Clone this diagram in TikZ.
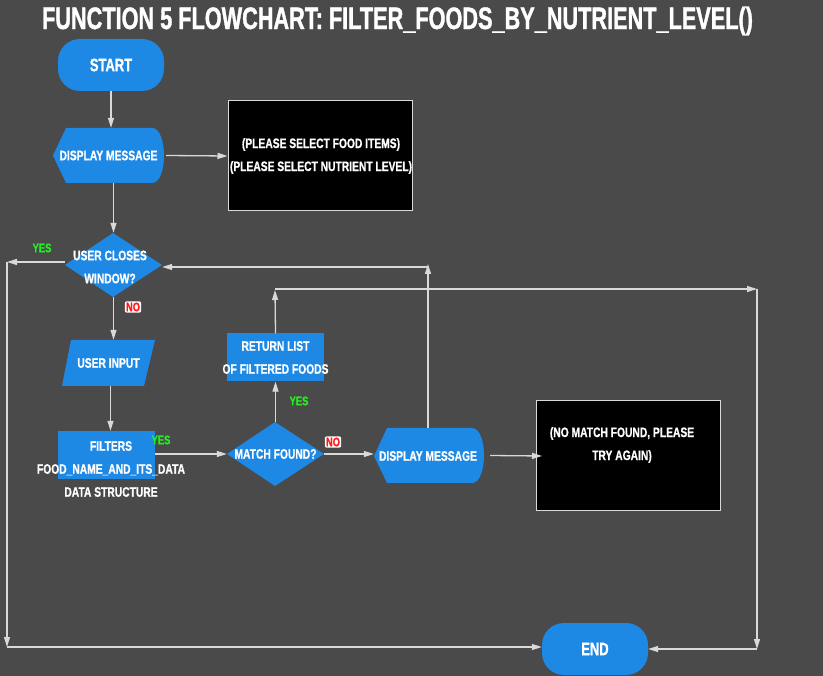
\documentclass[tikz,border=0pt]{standalone}
\usepackage{fontspec}
\usetikzlibrary{arrows.meta,calc}
\newfontfamily\titlefont{Liberation Sans}[FakeStretch=0.70,FakeBold=1.2]
\newfontfamily\nodefont{Liberation Sans}[FakeStretch=0.75,FakeBold=0.8]
\newfontfamily\termfont{Liberation Sans}[FakeStretch=0.72,FakeBold=1]
\definecolor{bg}{HTML}{4A4A4A}
\definecolor{fcblue}{HTML}{1E88E5}
\definecolor{lnc}{HTML}{D9D9D9}
\definecolor{yesg}{HTML}{22EE22}
\definecolor{nored}{HTML}{FF1A1A}
\tikzset{
  txt/.style={text=white, font=\nodefont\bfseries\fontsize{13.7}{23}\selectfont, align=center, inner sep=0pt},
  term/.style={fill=fcblue, rounded corners=22pt, minimum width=106pt, minimum height=52pt, txt, font=\termfont\bfseries\fontsize{18}{20}\selectfont},
  holder/.style={txt, minimum width=#1},
  blackbox/.style={fill=black, draw=lnc, line width=1pt, txt, minimum width=184pt, minimum height=110pt},
  conn/.style={draw=lnc, line width=1.3pt, -{Triangle[length=10pt,width=6pt]}},
  yeslbl/.style={text=yesg, font=\nodefont\bfseries\fontsize{12.5}{14}\selectfont, inner sep=0pt},
  nolbl/.style={text=nored, fill=white, rounded corners=2pt, font=\nodefont\bfseries\fontsize{12.5}{14}\selectfont, inner sep=1.2pt},
}
\begin{document}
\begin{tikzpicture}[x=1pt,y=-1pt]
\fill[bg] (0,0) rectangle (823,676);
\useasboundingbox (0,0) rectangle (823,676);

% title
\node[text=white, font=\titlefont\bfseries\fontsize{31}{33}\selectfont, inner sep=0pt] (title) at (397.5,21)
  {FUNCTION 5 FLOWCHART: FILTER\_FOODS\_BY\_NUTRIENT\_LEVEL()};

% shapes drawn directly
\fill[fcblue] (53,155.5) -- (66,128) -- (152,128) .. controls (168,128) and (168,183) .. (152,183) -- (66,183) -- cycle;
\fill[fcblue] (113,233) -- (162,265) -- (113,297) -- (65,265) -- cycle;
\fill[fcblue] (71,340) -- (155,340) -- (144,386) -- (62,386) -- cycle;
\fill[fcblue] (58,431) rectangle (155,479);
\fill[fcblue] (227,333) rectangle (324,381);
\fill[fcblue] (275,422) -- (324,454) -- (275,486) -- (227,454) -- cycle;
\fill[fcblue] (374,456) -- (387,428) -- (472,428) .. controls (488,428) and (488,483) .. (472,483) -- (387,483) -- cycle;

% nodes
\node[term] (start) at (111,65) {START};
\node[holder=111pt, minimum height=55pt] (dm1) at (108.5,155.5) {DISPLAY MESSAGE};
\node[blackbox] (box1) at (320,156) {};
\node[txt] (box1t) at (321,156) {(PLEASE SELECT FOOD ITEMS)\\(PLEASE SELECT NUTRIENT LEVEL)};
\node[holder=97pt, minimum height=64pt] (d1) at (113.5,265) {};
\node[txt] (d1t) at (110,267) {USER CLOSES\\WINDOW?};
\node[holder=93pt, minimum height=46pt] (ui) at (108.5,363) {USER INPUT};
\node[holder=97pt, minimum height=48pt] (filt) at (106.5,455) {};
\node[txt] (filtt) at (111,469) {FILTERS\\FOOD\_NAME\_AND\_ITS\_DATA\\DATA STRUCTURE};
\node[holder=97pt, minimum height=48pt] (ret) at (275.5,357.5) {RETURN LIST\\OF FILTERED FOODS};
\node[holder=97pt, minimum height=64pt] (m) at (275.5,454) {MATCH FOUND?};
\node[holder=110pt, minimum height=55pt] (dm2) at (429,455.5) {};
\node[txt] (dm2t) at (428,456) {DISPLAY MESSAGE};
\node[blackbox] (box2) at (628.5,456) {};
\node[txt] (box2t) at (622,445) {(NO MATCH FOUND, PLEASE\\TRY AGAIN)};
\node[term] (end) at (595,649) {END};

% labels
\node[yeslbl] (y1) at (42,248) {YES};
\node[yeslbl] (y2) at (161,440) {YES};
\node[yeslbl] (y3) at (299,401) {YES};
\node[nolbl] (n1) at (133,307) {NO};
\node[nolbl] (n2) at (333,442) {NO};

% coordinates
\coordinate (lft) at (7,262);
\coordinate (lftb) at (7,647);
\coordinate (up1) at (428,264);
\coordinate (up2) at (428,267);
\coordinate (r1) at (275,290);
\coordinate (r2) at (757,289);
\coordinate (r3) at (757,649);

% connectors
\draw[conn] (start.south) -- (start.south |- dm1.north);
\draw[conn] ([xshift=2pt]dm1.east) -- (box1.west);
\draw[conn] (d1.north |- dm1.south) -- (d1.north);
\draw[conn] (d1.west |- lft) -- (lft);
\draw[conn] (lft) -- (lftb);
\draw[conn] (lftb) -- (lftb -| end.west);
\draw[conn] (d1.south) -- (d1.south |- ui.north);
\draw[conn] ([xshift=2pt]ui.south) -- ([xshift=2pt]ui.south |- filt.north);
\draw[conn] (filt.east |- m.west) -- (m.west);
\draw[conn] (m.north) -- (ret.south);
\draw[conn] (m.east) -- (m.east -| dm2.west);
\draw[conn] ([xshift=6pt]dm2.east) -- ([xshift=6pt]box2.west);
\draw[conn] (dm2.north -| up1) -- (up1);
\draw[conn] (up2) -- (up2 -| d1.east);
\draw[conn] (ret.north) -- (r1);
\draw[conn] (r1 |- r2) -- (r2);
\draw[conn] (r2) -- (r3);
\draw[conn] (r3) -- (r3 -| end.east);
\end{tikzpicture}
\end{document}
